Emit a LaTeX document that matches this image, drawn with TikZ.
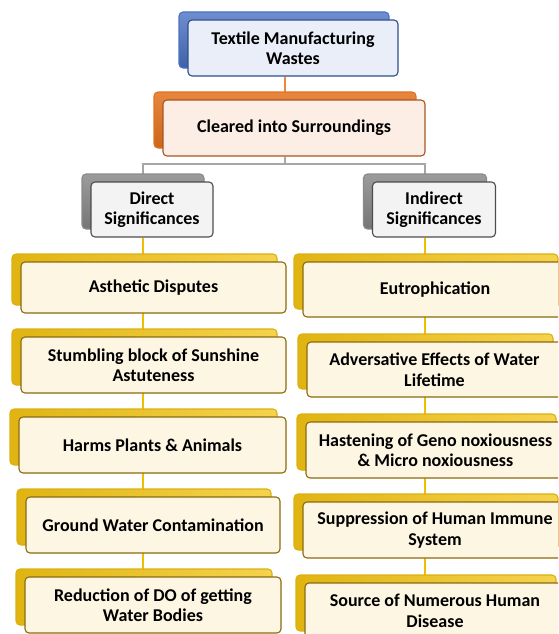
\documentclass[tikz,border=0pt]{standalone}
\usepackage{fontspec}
\setmainfont{Carlito}
\usetikzlibrary{calc}
\pgfdeclarelayer{bg}
\pgfdeclarelayer{backl}
\pgfsetlayers{bg,backl,main}
\definecolor{bluedark}{HTML}{2F4E8F}
\definecolor{bluemid}{HTML}{4A72C4}
\definecolor{bluelight}{HTML}{E9EEF8}
\definecolor{orgdark}{HTML}{A9541F}
\definecolor{orgmid}{HTML}{E2711D}
\definecolor{orglight}{HTML}{FCEEE5}
\definecolor{graydark}{HTML}{4D4D4D}
\definecolor{graymid}{HTML}{8A8A8A}
\definecolor{graylight}{HTML}{F3F3F3}
\definecolor{ydark}{HTML}{8C6A0E}
\definecolor{ymid}{HTML}{F3C413}
\definecolor{ylight}{HTML}{FDF6E2}
\definecolor{orgline}{HTML}{F0873A}
\definecolor{grayline}{HTML}{A6A6A6}
\definecolor{yline}{HTML}{F2BC00}
\tikzset{
  x=1pt, y=-1pt,
  boxbase/.style={rounded corners=4pt, line width=1.1pt, align=center, inner sep=2pt,
    font=\fontsize{18}{20.5}\selectfont\bfseries, text=black},
  blueback/.style={boxbase, draw=bluemid, top color=bluemid!80!white, bottom color=bluemid!85!black},
  bluefront/.style={boxbase, draw=bluedark, fill=bluelight},
  orgback/.style={boxbase, draw=orgmid, top color=orgmid!85!white, bottom color=orgmid!90!black},
  orgfront/.style={boxbase, draw=orgdark, fill=orglight},
  grayback/.style={boxbase, draw=graymid, top color=graymid!85!white, bottom color=graymid!85!black},
  grayfront/.style={boxbase, draw=graydark, fill=graylight},
  yback/.style={boxbase, draw=ymid!90!black, left color=ymid!92!black, right color=ymid!75!white},
  yfront/.style={boxbase, draw=ydark, fill=ylight},
  conn/.style={line width=2pt},
}
\newcommand\mybox[7]{%
  \begin{pgfonlayer}{backl}
  \node[#6back, minimum width=#4pt, minimum height=#5pt] (#1b) at (#2-9,#3-8) {};
  \end{pgfonlayer}
  \node[#6front, minimum width=#4pt, minimum height=#5pt] (#1) at (#2,#3) {#7};
}
\begin{document}
\begin{tikzpicture}
\useasboundingbox (0,0) rectangle (558,634);
\clip (0,0) rectangle (558,634);
\mybox{top}{293}{48}{210}{56}{blue}{Textile Manufacturing\\Wastes}
\mybox{clr}{294}{128}{262}{56}{org}{Cleared into Surroundings}
\mybox{dir}{152}{209.5}{122}{55}{gray}{Direct\\Significances}
\mybox{ind}{434}{209.5}{123}{55}{gray}{Indirect\\Significances}
\mybox{la}{153.5}{287.5}{265}{51}{y}{Asthetic Disputes}
\mybox{lb}{153.5}{365}{265}{56}{y}{Stumbling block of Sunshine\\Astuteness}
\mybox{lc}{152.5}{445}{267}{56}{y}{Harms Plants \& Animals}
\mybox{ld}{153}{525}{254}{56}{y}{Ground Water Contamination}
\mybox{le}{153}{605}{256}{56}{y}{Reduction of DO of getting\\Water Bodies}
\mybox{ra}{435}{289.5}{264}{55}{y}{Eutrophication}
\mybox{rb}{434.5}{369.5}{255}{55}{y}{Adversative Effects of Water\\Lifetime}
\mybox{rc}{435.5}{450}{259}{56}{y}{Hastening of Geno noxiousness\\\& Micro noxiousness}
\mybox{rd}{435}{530}{264}{56}{y}{Suppression of Human Immune\\System}
\mybox{re}{435}{611}{260}{56}{y}{Source of Numerous Human\\Disease}
\begin{pgfonlayer}{bg}
\draw[conn, orgline] ([xshift=-8pt]top.south) -- ([xshift=-8pt]top.south |- clr.north);
\draw[conn, grayline] ([xshift=-9pt]clr.south) -- ++(0,7) coordinate (hub) -| ([xshift=-9.5pt]dir.north);
\draw[conn, grayline] (hub) -| ([xshift=-9.5pt]ind.north);
\draw[conn, yline] ([xshift=-9.5pt]dir.south) -- ([xshift=-9.5pt]dir.south |- le.north);
\draw[conn, yline] ([xshift=-9.5pt]ind.south) -- ([xshift=-9.5pt]ind.south |- re.north);
\end{pgfonlayer}
\end{tikzpicture}
\end{document}
